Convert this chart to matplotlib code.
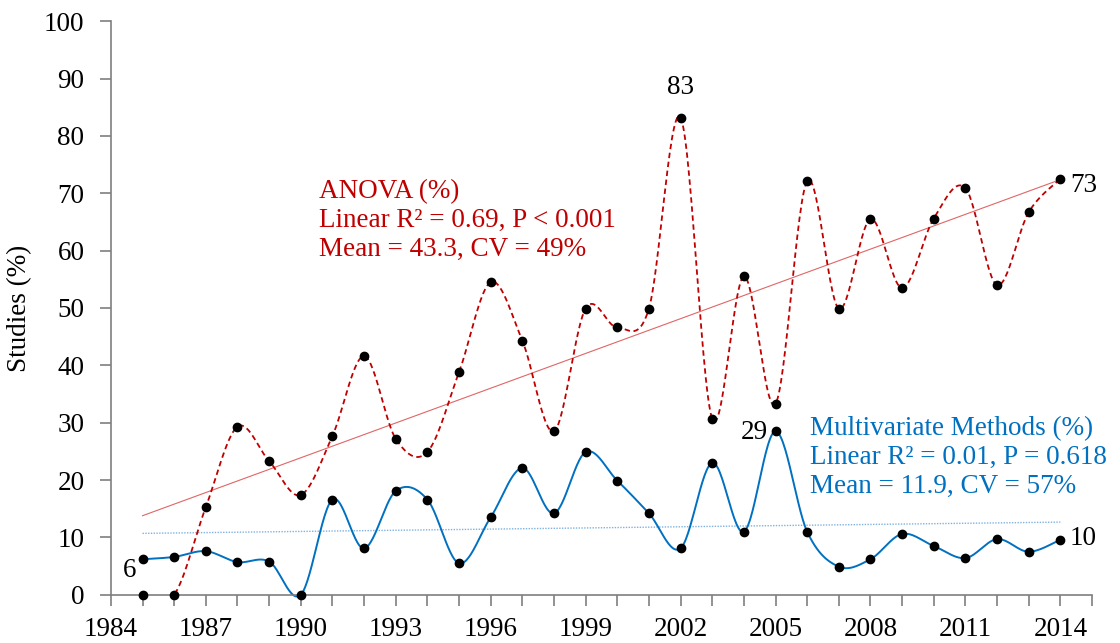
import numpy as np
import matplotlib
matplotlib.use("Agg")
import matplotlib.pyplot as plt

plt.rcParams['font.family'] = ['Liberation Serif', 'DejaVu Serif']

# данные по годам
years = np.arange(1985, 2015)
anova = [0, 0, 15.3, 29.3, 23.3, 17.4, 27.7, 41.6, 27.2, 24.9,
         38.8, 54.5, 44.3, 28.5, 49.9, 46.6, 49.9, 83.2, 30.7, 55.5,
         33.3, 72.1, 49.9, 65.5, 53.5, 65.6, 70.9, 54.0, 66.7, 72.5]
multi = [6.2, 6.6, 7.6, 5.7, 5.8, 0, 16.6, 8.1, 18.1, 16.6,
         5.5, 13.5, 22.1, 14.2, 24.9, 19.9, 14.2, 8.1, 23.0, 11.0,
         28.5, 11.0, 4.9, 6.2, 10.6, 8.5, 6.4, 9.7, 7.5, 9.6]

red = '#C00000'
blue = '#0070C0'


def smooth(x, y, n=30):
    # сглаживание как в Excel (Catmull-Rom через Безье)
    x = np.asarray(x, float)
    y = np.asarray(y, float)
    p = np.column_stack([x, y])
    pts = [p[0]] + list(p) + [p[-1]]
    out = []
    t = np.linspace(0, 1, n)
    for i in range(1, len(pts) - 2):
        p0, p1, p2, p3 = pts[i - 1], pts[i], pts[i + 1], pts[i + 2]
        c1 = p1 + (p2 - p0) / 6
        c2 = p2 - (p3 - p1) / 6
        seg = ((1 - t) ** 3)[:, None] * p1 + (3 * (1 - t) ** 2 * t)[:, None] * c1 \
            + (3 * (1 - t) * t ** 2)[:, None] * c2 + (t ** 3)[:, None] * p2
        out.append(seg)
    out = np.vstack(out)
    return out[:, 0], out[:, 1]


fig = plt.figure(figsize=(11.2, 6.43), dpi=100)
ax = fig.add_axes([0.099, 0.075, 0.876, 0.892])

# линии тренда
ka = np.polyfit(years, anova, 1)
km = np.polyfit(years, multi, 1)
ax.plot(years[[0, -1]], np.polyval(ka, years[[0, -1]]), '-', color='#E06666', lw=0.8)
ax.plot(years[[0, -1]], np.polyval(km, years[[0, -1]]), color='#7FB2E0', lw=1.0,
        linestyle=(0, (1, 1)))

xs, ys = smooth(years, anova)
ax.plot(xs, ys, '--', color=red, lw=1.3, dashes=(3, 2))
xs, ys = smooth(years, multi)
l_multi, = ax.plot(xs, ys, '-', color=blue, lw=1.4)

ax.plot(years, anova, 'o', color='black', ms=6, zorder=5, clip_on=False)
ax.plot(years, multi, 'o', color='black', ms=6, zorder=5, clip_on=False)
l_multi.set_clip_on(False)

fs = 19.5
ax.text(1984.6, 4.2, '6', fontsize=fs, ha='center', va='center')
ax.text(2002, 83.2 + 3, '83', fontsize=fs, ha='center', va='bottom')
ax.text(2014.3, 71.4, '73', fontsize=fs, ha='left', va='center')
ax.text(2004.75, 28.3, '29', fontsize=fs, ha='right', va='center')
ax.text(2014.3, 9.8, '10', fontsize=fs, ha='left', va='center')

ax.text(1990.58, 65.2, 'ANOVA (%)\nLinear R² = 0.69, P < 0.001\nMean = 43.3, CV = 49%',
        color=red, fontsize=fs, ha='left', va='center', linespacing=1.2)
ax.text(2006.1, 24.0, 'Multivariate Methods (%)\nLinear R² = 0.01, P = 0.618\nMean = 11.9, CV = 57%',
        color=blue, fontsize=fs, ha='left', va='center', linespacing=1.2)

ax.set_xlim(1984, 2015)
ax.set_ylim(0, 100)
ax.set_yticks(np.arange(0, 101, 10))
ax.set_xticks(np.arange(1984, 2015, 3))
ax.set_xticks(np.arange(1984, 2016, 1), minor=True)
ax.tick_params(axis='both', labelsize=fs, color='#7f7f7f', width=1.2, length=8)
ax.tick_params(axis='x', which='minor', color='#7f7f7f', width=1.2, length=8)
ax.tick_params(axis='x', pad=8)
ax.tick_params(axis='y', pad=11)
ax.set_ylabel('Studies (%)', fontsize=fs)
ax.yaxis.set_label_coords(-0.080, 0.5)

for s in ['top', 'right']:
    ax.spines[s].set_visible(False)
for s in ['left', 'bottom']:
    ax.spines[s].set_color('#7f7f7f')
    ax.spines[s].set_linewidth(1.2)

fig.savefig('out.png', dpi=100)
